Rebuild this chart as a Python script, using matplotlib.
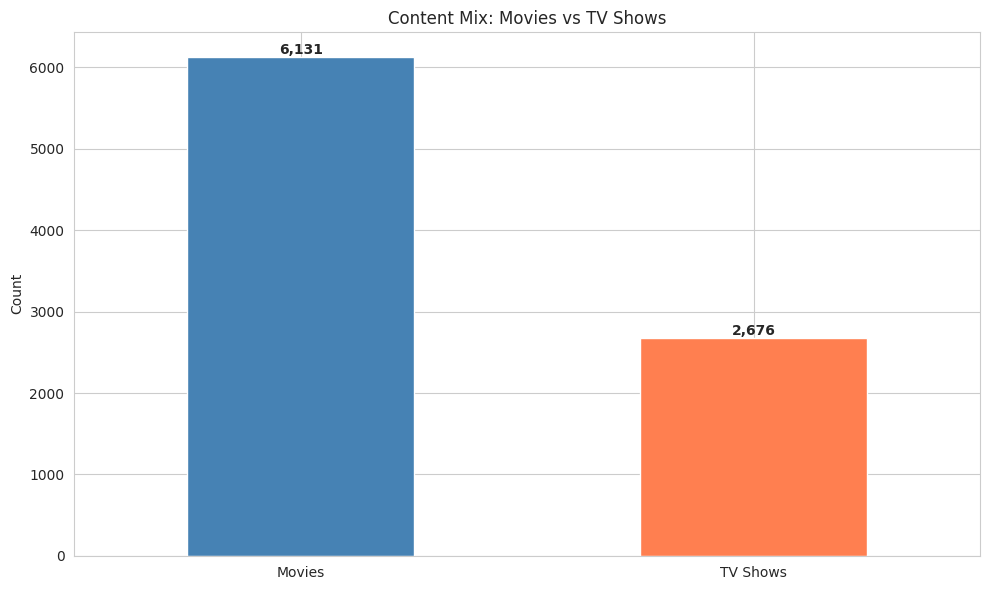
import matplotlib
matplotlib.use("Agg")
import matplotlib.pyplot as plt
import seaborn as sns

sns.set_style("whitegrid")

categories = ["Movies", "TV Shows"]
counts = [6131, 2676]
colors = ["steelblue", "coral"]

fig, ax = plt.subplots(figsize=(9.89, 5.9), dpi=100)
bars = ax.bar(categories, counts, width=0.5, color=colors)
for b, v in zip(bars, counts):
    ax.text(b.get_x() + b.get_width() / 2, v, f"{v:,}", ha="center", va="bottom", fontweight="bold")
ax.set_xlim(-0.5, 1.5)
ax.set_title("Content Mix: Movies vs TV Shows")
ax.set_ylabel("Count")
fig.tight_layout()
fig.subplots_adjust(left=0.075, right=0.991, top=0.946, bottom=0.058)
fig.savefig("out.png")
